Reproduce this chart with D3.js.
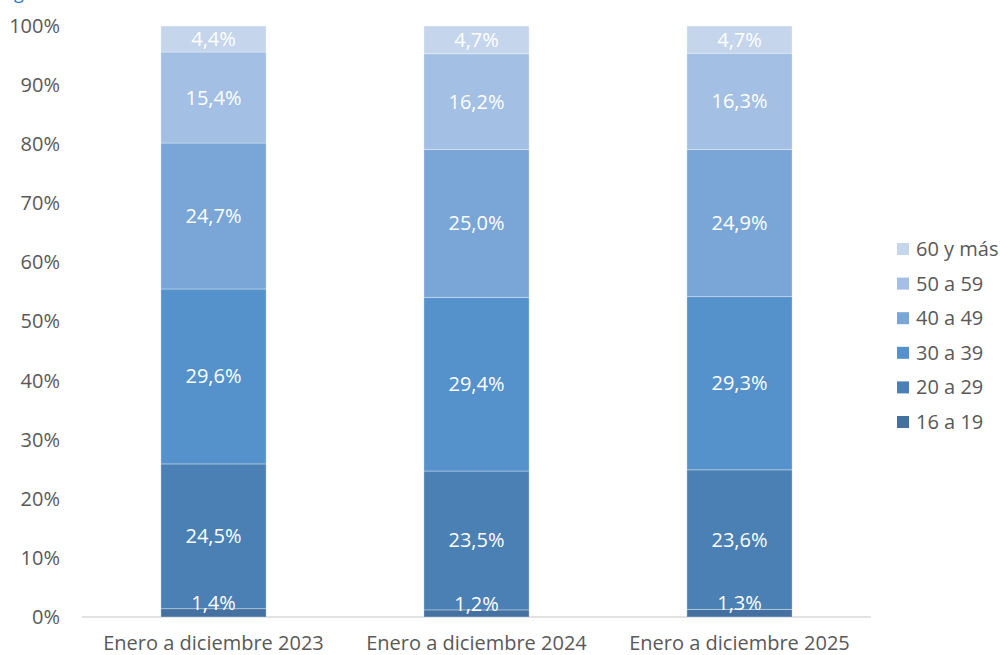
<!DOCTYPE html>
<html>
<head>
<meta charset="utf-8">
<script src="https://cdn.jsdelivr.net/npm/d3@7"></script>
<style>
  body { margin: 0; background: #fff; }
  text { font-family: "Open Sans", sans-serif; }
</style>
</head>
<body>
<div id="plot"></div>
<script>
// Chart data
var categories = ["Enero a diciembre 2023", "Enero a diciembre 2024", "Enero a diciembre 2025"];
var seriesNames = ["16 a 19", "20 a 29", "30 a 39", "40 a 49", "50 a 59", "60 y más"];
var v16a19 = [1.4, 1.2, 1.3];
var v20a29 = [24.5, 23.5, 23.6];
var v30a39 = [29.6, 29.4, 29.3];
var v40a49 = [24.7, 25.0, 24.9];
var v50a59 = [15.4, 16.2, 16.3];
var v60mas = [4.4, 4.7, 4.7];
var yTicks = [0, 10, 20, 30, 40, 50, 60, 70, 80, 90, 100];

var colors = ["#44719f", "#4a80b4", "#5592cb", "#79a6d7", "#a3bfe3", "#c4d5ec"];

var svgWidth = 1000;
var svgHeight = 655;
var margin = { top: 26, right: 129, bottom: 38, left: 82 };
var chartWidth = svgWidth - margin.left - margin.right;
var chartHeight = svgHeight - margin.top - margin.bottom;

var svg = d3.select("#plot")
  .append("svg")
  .attr("width", svgWidth)
  .attr("height", svgHeight);

// cut-off title mark in the top-left corner
svg.append("text")
  .attr("x", 14)
  .attr("y", -1)
  .attr("fill", "#1f78c8")
  .style("font-size", "18px")
  .text("g");

var chartGroup = svg.append("g")
  .attr("transform", `translate(${margin.left}, ${margin.top})`);

// build rows for the stack
var allSeries = [v16a19, v20a29, v30a39, v40a49, v50a59, v60mas];
var rows = categories.map(function(c, i) {
  var r = { cat: c };
  seriesNames.forEach(function(s, j) { r[s] = allSeries[j][i]; });
  return r;
});
var stacked = d3.stack().keys(seriesNames)(rows);

var x = d3.scaleBand()
  .domain(categories)
  .range([0, chartWidth])
  .paddingInner(0.6)
  .paddingOuter(0.3);

var y = d3.scaleLinear()
  .domain([0, 100])
  .range([chartHeight, 0])
  .clamp(true);

// y axis labels
var leftAxis = d3.axisLeft(y).tickValues(yTicks).tickFormat(d => d + "%").tickSize(0).tickPadding(22);
var yAxisG = chartGroup.append("g").call(leftAxis);
yAxisG.select(".domain").remove();
yAxisG.selectAll("text").attr("fill", "#595959").style("font-size", "20px");

// baseline
chartGroup.append("line")
  .attr("x1", 0).attr("x2", chartWidth)
  .attr("y1", y(0)).attr("y2", y(0))
  .attr("stroke", "#d9d9d9").attr("stroke-width", 1.5);

// bars
var layers = chartGroup.selectAll(".layer")
  .data(stacked)
  .enter()
  .append("g")
  .attr("class", "layer")
  .attr("fill", (d, i) => colors[i]);

layers.selectAll("rect")
  .data(d => d)
  .enter()
  .append("rect")
  .attr("x", d => x(d.data.cat))
  .attr("y", d => y(d[1]))
  .attr("width", x.bandwidth())
  .attr("height", d => y(d[0]) - y(d[1]))
  .attr("stroke", "rgba(255,255,255,0.45)")
  .attr("stroke-width", 0.75);

// value labels, drawn on top of all bars
var labelGroup = chartGroup.append("g");
stacked.forEach(function(layer, li) {
  labelGroup.selectAll(".lbl" + li)
    .data(layer)
    .enter()
    .append("text")
    .attr("class", "lbl" + li)
    .attr("x", d => x(d.data.cat) + x.bandwidth() / 2)
    .attr("y", function(d) {
      if (li === 0) return y(d[1]) + 1;
      return (y(d[0]) + y(d[1])) / 2 + 7;
    })
    .attr("text-anchor", "middle")
    .attr("fill", "#ffffff")
    .style("font-size", "20px")
    .text(d => d3.format(".1f")(d[1] - d[0]).replace(".", ",") + "%");
});

// x axis labels
var bottomAxis = d3.axisBottom(x).tickSize(0).tickPadding(19);
var xAxisG = chartGroup.append("g")
  .attr("transform", `translate(0, ${chartHeight})`)
  .call(bottomAxis);
xAxisG.select(".domain").remove();
xAxisG.selectAll("text").attr("fill", "#595959").style("font-size", "20px");

// legend (top entry is the last series)
var legend = svg.append("g")
  .attr("transform", "translate(897, 249)");

var legendItems = legend.selectAll(".item")
  .data(seriesNames.slice().reverse())
  .enter()
  .append("g")
  .attr("class", "item")
  .attr("transform", (d, i) => `translate(0, ${i * 34.6})`);

legendItems.append("rect")
  .attr("x", 0).attr("y", -6)
  .attr("width", 12).attr("height", 12)
  .attr("fill", d => colors[seriesNames.indexOf(d)]);

legendItems.append("text")
  .attr("x", 19).attr("y", 7)
  .attr("fill", "#595959")
  .style("font-size", "20px")
  .text(d => d);
</script>
</body>
</html>
